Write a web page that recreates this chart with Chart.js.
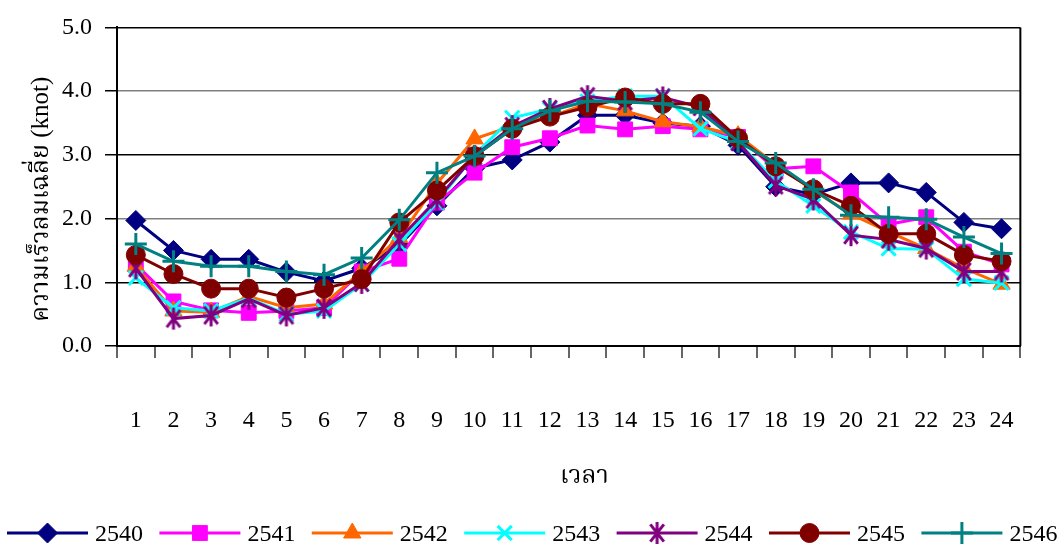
<!DOCTYPE html>
<html>
<head>
<meta charset="utf-8">
<script src="https://cdn.jsdelivr.net/npm/chart.js@4.4.1/dist/chart.umd.min.js"></script>
<style>
  html, body { margin: 0; padding: 0; background: #fff; }
  #wrap { width: 1062px; height: 549px; position: relative; }
</style>
</head>
<body>
<div id="wrap"><canvas id="windChart"></canvas></div>
<script>
// ชั่วโมง 1-24
const hours = ['1','2','3','4','5','6','7','8','9','10','11','12','13','14','15','16','17','18','19','20','21','22','23','24'];
const years = ['2540', '2541', '2542', '2543', '2544', '2545', '2546'];
const yTickLabels = ['0.0', '1.0', '2.0', '3.0', '4.0', '5.0'];

// ความเร็วลมเฉลี่ยรายชั่วโมง (knot)
const v2540 = [1.97, 1.50, 1.36, 1.36, 1.16, 1.02, 1.22, 1.58, 2.20, 2.79, 2.92, 3.20, 3.62, 3.62, 3.50, 3.45, 3.15, 2.50, 2.38, 2.56, 2.56, 2.41, 1.94, 1.84];
const v2541 = [1.28, 0.70, 0.56, 0.52, 0.55, 0.60, 1.17, 1.37, 2.25, 2.72, 3.12, 3.26, 3.46, 3.40, 3.45, 3.40, 3.28, 2.78, 2.82, 2.41, 1.91, 2.02, 1.48, 1.28];
const v2542 = [1.25, 0.55, 0.53, 0.78, 0.60, 0.66, 1.17, 1.70, 2.55, 3.25, 3.45, 3.60, 3.80, 3.69, 3.52, 3.44, 3.30, 2.85, 2.44, 2.07, 1.79, 1.53, 1.22, 0.97];
const v2543 = [1.07, 0.60, 0.55, 0.75, 0.50, 0.55, 0.97, 1.60, 2.25, 3.00, 3.58, 3.72, 3.84, 3.92, 3.92, 3.41, 3.20, 2.59, 2.20, 1.79, 1.53, 1.52, 1.05, 0.99];
const v2544 = [1.22, 0.43, 0.48, 0.74, 0.48, 0.60, 0.99, 1.68, 2.30, 2.98, 3.45, 3.72, 3.92, 3.84, 3.90, 3.75, 3.20, 2.52, 2.30, 1.74, 1.67, 1.53, 1.17, 1.17];
const v2545 = [1.43, 1.13, 0.90, 0.90, 0.76, 0.90, 1.05, 1.94, 2.44, 2.98, 3.41, 3.60, 3.75, 3.90, 3.80, 3.80, 3.26, 2.82, 2.46, 2.20, 1.76, 1.76, 1.43, 1.33];
const v2546 = [1.60, 1.33, 1.25, 1.25, 1.17, 1.12, 1.38, 1.98, 2.72, 2.98, 3.41, 3.69, 3.84, 3.83, 3.80, 3.67, 3.21, 2.87, 2.46, 2.05, 2.02, 1.99, 1.71, 1.45];

const seriesValues = [v2540, v2541, v2542, v2543, v2544, v2545, v2546];
const lineColors = ['#000080', '#FF00FF', '#FF6600', '#00FFFF', '#800080', '#800000', '#008080'];

// เครื่องหมายดอกจัน (แนวตั้ง + กากบาท)
function makeAsterisk(color) {
  const c = document.createElement('canvas');
  c.width = 24; c.height = 24;
  const g = c.getContext('2d');
  g.strokeStyle = color;
  g.lineWidth = 3;
  g.lineCap = 'butt';
  const r = 11, a = 38 * Math.PI / 180;
  g.beginPath();
  g.moveTo(12, 12 - r); g.lineTo(12, 12 + r);
  g.moveTo(12 - r * Math.sin(a), 12 - r * Math.cos(a)); g.lineTo(12 + r * Math.sin(a), 12 + r * Math.cos(a));
  g.moveTo(12 + r * Math.sin(a), 12 - r * Math.cos(a)); g.lineTo(12 - r * Math.sin(a), 12 + r * Math.cos(a));
  g.stroke();
  return c;
}

const markers = [
  { style: 'rectRot', radius: 10, fill: true },
  { style: 'rect', radius: 10.5, fill: true },
  { style: 'triangle', radius: 10, fill: true },
  { style: 'crossRot', radius: 10, fill: false },
  { style: makeAsterisk('#800080'), radius: 11, fill: false },
  { style: 'circle', radius: 9.5, fill: true },
  { style: 'cross', radius: 11, fill: false }
];

const serif = "'Liberation Serif', 'Times New Roman', 'Noto Serif Thai', 'Noto Sans Thai', 'Loma', 'Garuda', 'Norasi', serif";

const datasets = years.map(function (y, i) {
  return {
    label: y,
    data: seriesValues[i],
    borderColor: lineColors[i],
    backgroundColor: lineColors[i],
    borderWidth: 3,
    pointStyle: markers[i].style,
    pointRadius: markers[i].radius,
    pointBackgroundColor: lineColors[i],
    pointBorderColor: lineColors[i],
    pointBorderWidth: markers[i].fill ? 1 : 3,
    tension: 0,
    order: years.length - i
  };
});

// กรอบด้านขวาของพื้นที่กราฟ
const rightBorder = {
  id: 'rightBorder',
  afterDatasetsDraw(chart) {
    const { ctx, chartArea } = chart;
    ctx.save();
    ctx.strokeStyle = '#000';
    ctx.lineWidth = 2;
    ctx.beginPath();
    ctx.moveTo(chartArea.right, chartArea.top);
    ctx.lineTo(chartArea.right, chartArea.bottom);
    ctx.stroke();
    ctx.restore();
  }
};

// คำอธิบายสัญลักษณ์แบบเส้น + จุด ด้านล่าง
const lineLegend = {
  id: 'lineLegend',
  afterDraw(chart) {
    const { ctx } = chart;
    const y = 533, step = 152.4, lineLen = 81;
    ctx.save();
    chart.data.datasets.forEach(function (ds, i) {
      const x0 = 7 + i * step;
      ctx.strokeStyle = ds.borderColor;
      ctx.lineWidth = 3;
      ctx.beginPath();
      ctx.moveTo(x0, y);
      ctx.lineTo(x0 + lineLen, y);
      ctx.stroke();
      ctx.fillStyle = ds.pointBackgroundColor;
      ctx.strokeStyle = ds.pointBorderColor;
      ctx.lineWidth = ds.pointBorderWidth;
      Chart.helpers.drawPoint(ctx, {
        pointStyle: ds.pointStyle,
        radius: ds.pointRadius,
        rotation: 0,
        borderWidth: ds.pointBorderWidth
      }, x0 + lineLen / 2, y);
      ctx.fillStyle = '#000';
      ctx.font = '24px ' + serif;
      ctx.textBaseline = 'middle';
      ctx.textAlign = 'left';
      ctx.fillText(ds.label, x0 + 88, y + 2);
    });
    ctx.restore();
  }
};

const ctx = document.getElementById('windChart').getContext('2d');
const windChart = new Chart(ctx, {
  type: 'line',
  data: { labels: hours, datasets: datasets },
  plugins: [rightBorder, lineLegend],
  options: {
    responsive: true,
    maintainAspectRatio: false,
    devicePixelRatio: 1,
    animation: false,
    layout: { padding: { left: 0, right: 22, top: 22, bottom: 53 } },
    plugins: {
      legend: { display: false },
      tooltip: { enabled: false }
    },
    scales: {
      x: {
        type: 'category',
        offset: true,
        afterFit: function (scale) { scale.height = 150; },
        grid: {
          offset: true,
          drawOnChartArea: false,
          tickLength: 12,
          tickColor: '#666',
          lineWidth: 2
        },
        border: { display: true, color: '#000', width: 2 },
        ticks: {
          autoSkip: false,
          maxRotation: 0,
          padding: 48,
          color: '#000',
          font: { family: serif, size: 24 }
        },
        title: {
          display: true,
          text: '     เวลา',
          color: '#000',
          font: { family: serif, size: 25 },
          padding: { top: 0, bottom: 5 }
        }
      },
      y: {
        min: 0,
        max: 5,
        afterFit: function (scale) { scale.width = 117; },
        afterBuildTicks: function (scale) {
          scale.ticks = yTickLabels.map(function (t) { return { value: parseFloat(t) }; });
        },
        grid: {
          tickLength: 12,
          tickColor: '#000',
          color: function (c) {
            const v = c.tick ? c.tick.value : 0;
            return (v === 2 || v === 4) ? '#808080' : '#000';
          },
          lineWidth: 1.5
        },
        border: { display: true, color: '#000', width: 2 },
        ticks: {
          padding: 13,
          color: '#000',
          font: { family: serif, size: 24 },
          callback: function (v, i) { return yTickLabels[i]; }
        },
        title: {
          display: true,
          text: 'ความเร็วลมเฉลี่ย (knot)    ',
          color: '#000',
          font: { family: serif, size: 25 },
          padding: { top: 26, bottom: 0 }
        }
      }
    }
  }
});
</script>
</body>
</html>
